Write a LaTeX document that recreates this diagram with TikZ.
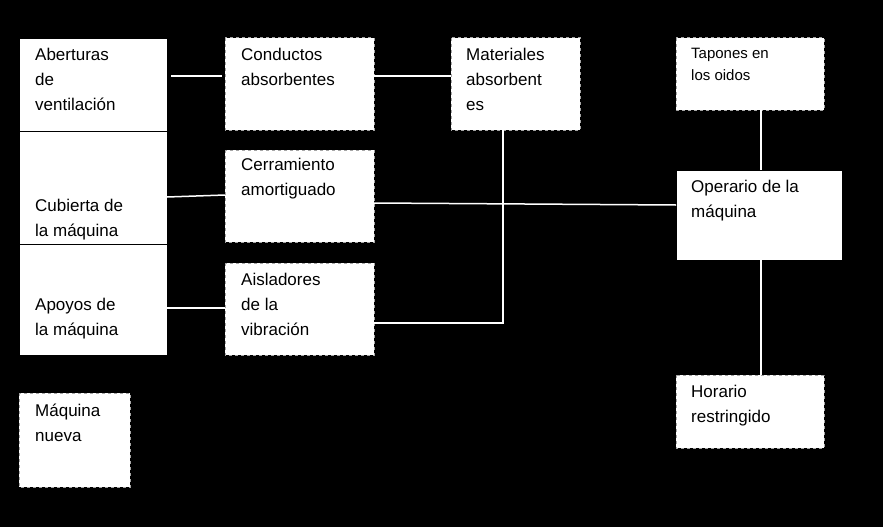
\documentclass[tikz,border=0pt]{standalone}
\usepackage{fontspec}
\setmainfont{Liberation Sans}
\begin{document}
\begin{tikzpicture}[x=1pt,y=-1pt,
  solidbox/.style={draw=black,fill=white,line width=0.8pt},
  dashbox/.style={draw=gray!70,fill=white,dashed,line width=1pt},
  txt/.style={anchor=north west,align=left,inner sep=0pt,font=\fontsize{17}{25}\selectfont},
  wire/.style={draw=white,line width=1.5pt}]
\fill[black] (0,0) rectangle (883,527);
\useasboundingbox (0,0) rectangle (883,527);
% boxes
\path[solidbox] (19,38) rectangle (167,131) coordinate (lb1);
\path[solidbox] (19,131) rectangle (167,244);
\path[solidbox] (19,244) rectangle (167,355);
\path[dashbox] (19,393) rectangle (130,487);
\path[dashbox] (225,38) rectangle (374,130);
\path[dashbox] (225,150) rectangle (374,242);
\path[dashbox] (225,263) rectangle (374,355);
\path[dashbox] (451,38) rectangle (580,130);
\path[dashbox] (676,38) rectangle (824,110);
\path[solidbox] (676,170) rectangle (842,260);
\path[dashbox] (676,375) rectangle (824,448);
% texts
\node[txt] (t1) at (35,48) {Aberturas\\de\\ventilación};
\node[txt] (t2) at (35,199) {Cubierta de\\la máquina};
\node[txt] (t3) at (35,298) {Apoyos de\\la máquina};
\node[txt] (t4) at (35,404) {Máquina\\nueva};
\node[txt] (t5) at (241,48) {Conductos\\absorbentes};
\node[txt] (t6) at (241,158) {Cerramiento\\amortiguado};
\node[txt] (t7) at (241,273) {Aisladores\\de la\\vibración};
\node[txt] (t8) at (466,48) {Materiales\\absorbent\\es};
\node[txt,font=\fontsize{15}{22}\selectfont] (t9) at (691,48) {Tapones en\\los oidos};
\node[txt] (t10) at (691,180) {Operario de la\\máquina};
\node[txt] (t11) at (691,385) {Horario\\restringido};
% connectors
\coordinate (a1) at (171,76); \coordinate (a2) at (222,76);
\coordinate (b1) at (374,76); \coordinate (b2) at (451,76);
\coordinate (c1) at (167,197); \coordinate (c2) at (225,195);
\coordinate (d1) at (374,203); \coordinate (d2) at (676,205);
\coordinate (e1) at (167,308); \coordinate (e2) at (225,308);
\coordinate (f1) at (374,323); \coordinate (f2) at (503,323); \coordinate (f3) at (503,130);
\coordinate (g1) at (761,110); \coordinate (g2) at (761,170);
\coordinate (h1) at (761,260); \coordinate (h2) at (761,375);
\draw[wire] (a1) -- (a2);
\draw[wire] (b1) -- (b2);
\draw[wire] (c1) -- (c2);
\draw[wire] (d1) -- (d2);
\draw[wire] (e1) -- (e2);
\draw[wire] (f1) -- (f2) -- (f3);
\draw[wire] (g1) -- (g2);
\draw[wire] (h1) -- (h2);
\end{tikzpicture}
\end{document}
